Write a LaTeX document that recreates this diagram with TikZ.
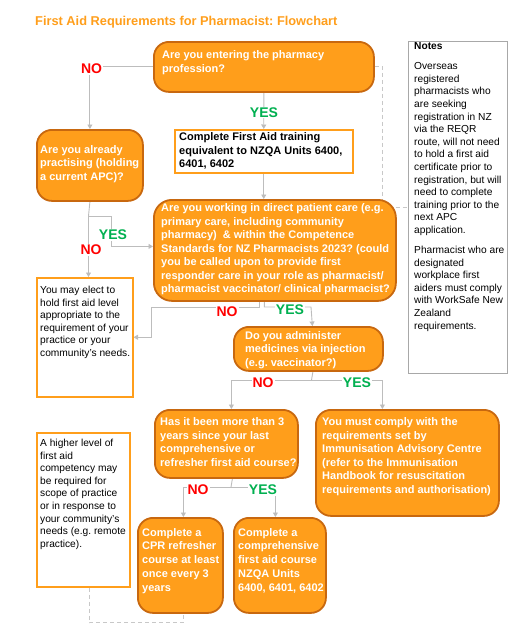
\documentclass[tikz,border=0pt]{standalone}
\usepackage{fontspec}
\setmainfont{Liberation Sans}
\frenchspacing
\usetikzlibrary{arrows.meta,backgrounds}
\definecolor{orfill}{HTML}{FF9E1B}
\definecolor{ordraw}{HTML}{C8680F}
\definecolor{linegray}{HTML}{BDBDBD}
\definecolor{dashgray}{HTML}{C8C8C8}
\definecolor{notegray}{HTML}{A8A8A8}
\definecolor{nored}{HTML}{FF0000}
\definecolor{yesgreen}{HTML}{00B050}
\tikzset{
  qbox/.style={draw=ordraw, fill=orfill, line width=1.8pt, rounded corners=15pt, anchor=north west, inner sep=0pt},
  wbox/.style={draw=orfill, fill=white, line width=1.5pt, anchor=north west, inner sep=0pt},
  nbox/.style={draw=notegray, fill=white, line width=1.3pt, anchor=north west, inner sep=0pt},
  txt/.style={anchor=north west, inner sep=0pt, align=left},
  qtxt/.style={txt, text=white, font=\bfseries\fontsize{11}{13.5}\selectfont},
  ttxt/.style={txt, text=black, font=\bfseries\fontsize{11}{13.9}\selectfont},
  ntxt/.style={txt, text=black, font=\fontsize{10.2}{12.6}\selectfont},
  nolab/.style={text=nored, font=\bfseries\fontsize{14}{16}\selectfont, fill=white, inner sep=1pt},
  yeslab/.style={text=yesgreen, font=\bfseries\fontsize{14}{16}\selectfont, fill=white, inner sep=1pt},
  conn/.style={draw=linegray, line width=0.9pt},
  arr/.style={conn, -{Triangle[width=5pt,length=4.5pt]}},
  dashln/.style={draw=dashgray, line width=0.9pt, dash pattern=on 4pt off 3pt}
}
\begin{document}
\begin{tikzpicture}[x=1pt, y=-1pt]
\useasboundingbox (0,0) rectangle (508,630);

% title
\node[anchor=base west, inner sep=0pt, text=orfill, font=\bfseries\fontsize{12.8}{15}\selectfont] (title) at (35,25) {First Aid Requirements for Pharmacist: Flowchart};

% boxes
\node[qbox, minimum width=220pt, minimum height=50pt] (q1) at (153,41) {};
\node[qbox, minimum width=106pt, minimum height=71pt] (q2) at (36,129) {};
\node[wbox, minimum width=178pt, minimum height=43pt] (t1) at (174,129) {};
\node[qbox, minimum width=242pt, minimum height=101pt, rounded corners=18pt] (q3) at (153,199) {};
\node[wbox, minimum width=96pt, minimum height=119pt] (w1) at (36,277) {};
\node[qbox, minimum width=149pt, minimum height=44pt] (q4) at (233,326) {};
\node[qbox, minimum width=143pt, minimum height=68pt] (q5) at (154,409) {};
\node[qbox, minimum width=183pt, minimum height=106pt] (q6) at (315,409) {};
\node[qbox, minimum width=85pt, minimum height=95pt] (q7) at (137,517) {};
\node[qbox, minimum width=92pt, minimum height=95pt] (q8) at (233,517) {};
\node[wbox, minimum width=93pt, minimum height=154pt] (w2) at (36,432) {};
\node[nbox, minimum width=99pt, minimum height=332pt] (notes) at (407.5,40.5) {};

% texts
\node[qtxt] (q1t) at (162,50.5) {Are you entering the pharmacy\\profession?};
\node[qtxt] (q2t) at (40,145) {Are you already\\practising (holding\\a current APC)?};
\node[ttxt] (t1t) at (179,132) {Complete First Aid training\\equivalent to NZQA Units 6400,\\6401, 6402};
\node[qtxt] (q3t) at (161,203.5) {Are you working in direct patient care (e.g.\\primary care, including community\\pharmacy)\ \ \& within the Competence\\Standards for NZ Pharmacists 2023? (could\\you be called upon to provide first\\responder care in your role as pharmacist/\\pharmacist vaccinator/ clinical pharmacist?};
\node[ntxt] (w1t) at (40,286) {You may elect to\\hold first aid level\\appropriate to the\\requirement of your\\practice or your\\community’s needs.};
\node[qtxt] (q4t) at (245,331) {Do you administer\\medicines via injection\\(e.g. vaccinator?)};
\node[qtxt] (q5t) at (160,417.5) {Has it been more than 3\\years since your last\\comprehensive or\\refresher first aid course?};
\node[qtxt] (q6t) at (322,417.5) {You must comply with the\\requirements set by\\Immunisation Advisory Centre\\(refer to the Immunisation\\Handbook for resuscitation\\requirements and authorisation)};
\node[qtxt, font=\bfseries\fontsize{11}{13.75}\selectfont] (q7t) at (142,528) {Complete a\\CPR refresher\\course at least\\once every 3\\years};
\node[qtxt, font=\bfseries\fontsize{11}{13.75}\selectfont] (q8t) at (238,528) {Complete a\\comprehensive\\first aid course\\NZQA Units\\6400, 6401, 6402};
\node[ntxt] (w2t) at (40,439) {A higher level of\\first aid\\competency may\\be required for\\scope of practice\\or in response to\\your community’s\\needs (e.g. remote\\practice).};
\node[ntxt] (notest) at (414,42.5) {\textbf{Notes}\\[7.4pt]Overseas\\registered\\pharmacists who\\are seeking\\registration in NZ\\via the REQR\\route, will not need\\to hold a first aid\\certificate prior to\\registration, but will\\need to complete\\training prior to the\\next APC\\application.\\[7.4pt]Pharmacist who are\\designated\\workplace first\\aiders must comply\\with WorkSafe New\\Zealand\\requirements.};

% connectors
\begin{pgfonlayer}{background}
\draw[dashln] (q1.east) -- ++(8,0) |- (notes.west);
\draw[dashln] ([xshift=6pt]w2.south) -- ++(0,35) -| ([xshift=3pt]q7.south);

\draw[arr] (q1.west) -| (q2.north);
\draw[arr] (q1.south) -- (t1.north);
\draw[arr] (t1.south) -- (t1.south |- q3.north);

\coordinate (s2) at (88.5,216);
\draw[conn] (q2.south) -- (s2);
\draw[arr] (s2) -- (111,216) |- ([yshift=4pt]q3.west);
\draw[arr] (s2) -- (s2 |- w1.north);

\draw[arr] ([xshift=-15.5pt]q3.south) |- (151,307) |- (w1.east);
\draw[arr] ([xshift=-10.5pt]q3.south) |- (311,307) -- ([xshift=4pt]q4.north);

\coordinate (s4) at (311.5,380);
\draw[conn] ([xshift=4.5pt]q4.south) -- (s4);
\draw[arr] (s4) -| ([xshift=5pt]q5.north);
\draw[arr] (s4) -| ([xshift=-25pt]q6.north);

\coordinate (s5) at (231,487);
\draw[conn] ([xshift=6pt]q5.south) -- (s5);
\draw[arr] (s5) -| ([xshift=3pt]q7.north);
\draw[arr] (s5) -| ([xshift=-4.5pt]q8.north);
\end{pgfonlayer}

% labels
\node[nolab] (no1) at (91.5,69) {NO};
\node[yeslab] (yes1) at (264,112.5) {YES};
\node[yeslab] (yes2) at (113,235) {YES};
\node[nolab] (no2) at (91,250) {NO};
\node[nolab] (no3) at (227,312) {NO};
\node[yeslab] (yes3) at (290,310) {YES};
\node[nolab] (no4) at (263,383) {NO};
\node[yeslab] (yes4) at (357,383) {YES};
\node[nolab] (no5) at (198,490) {NO};
\node[yeslab] (yes5) at (263,490) {YES};
\end{tikzpicture}
\end{document}
